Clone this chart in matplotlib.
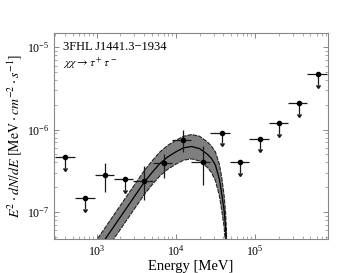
"""SED of 3FHL J1441.3-1934 with a tau+tau- dark matter fit band."""

import matplotlib

matplotlib.use("Agg")
import matplotlib.pyplot as plt
import numpy as np

plt.rcParams["font.family"] = "serif"
plt.rcParams["font.serif"] = ["Liberation Serif", "DejaVu Serif"]
plt.rcParams["mathtext.fontset"] = "stix"

# flux points (MeV, MeV cm^-2 s^-1)
energy = [400, 720, 1280, 2260, 3980, 7000, 12500, 21800, 38000, 65000, 115000, 204000, 355000, 620000]
energy_edges = [295, 530, 940, 1650, 2900, 5100, 8900, 15600, 27400, 48000, 85000, 149000, 262000, 460000, 810000]
flux = [4.6e-7, 1.48e-7, 2.8e-7, 2.5e-7, 2.4e-7, 3.9e-7, 7.5e-7, 4.0e-7, 9.2e-7, 4.07e-7, 7.8e-7, 1.2e-6, 2.1e-6, 4.7e-6]
flux_low = [None, None, 1.74e-7, None, 1.38e-7, 2.57e-7, 5.4e-7, 2.1e-7, None, None, None, None, None, None]
flux_high = [None, None, 3.9e-7, None, 3.6e-7, 5.1e-7, 1.0e-6, 6.4e-7, None, None, None, None, None, None]
upper_limit = [True, True, False, True, False, False, False, False, True, True, True, True, True, True]

# model curve and 1-sigma band, read as log10 values
model_log_e = [2.9, 3.0, 3.1, 3.2, 3.3, 3.4, 3.5, 3.6, 3.7, 3.8, 3.9, 4.0, 4.1, 4.2, 4.3, 4.4,
               4.45, 4.5, 4.55, 4.58, 4.61, 4.63, 4.64, 4.646]
model_log_f = [-7.63, -7.48, -7.34, -7.20, -7.06, -6.92, -6.78, -6.64, -6.52, -6.41, -6.33, -6.27,
               -6.22, -6.205, -6.23, -6.30, -6.35, -6.43, -6.60, -6.78, -6.98, -7.20, -7.45, -8.0]
band_log_hi = [-7.49, -7.34, -7.20, -7.06, -6.92, -6.78, -6.64, -6.50, -6.38, -6.27, -6.19, -6.13,
               -6.08, -6.06, -6.08, -6.15, -6.20, -6.27, -6.42, -6.58, -6.80, -7.02, -7.25, -8.0]
band_log_lo = [-7.78, -7.63, -7.49, -7.35, -7.21, -7.07, -6.93, -6.79, -6.67, -6.56, -6.48, -6.42,
               -6.37, -6.355, -6.38, -6.46, -6.52, -6.62, -6.80, -6.98, -7.18, -7.42, -7.70, -8.0]

fig = plt.figure(figsize=(3.63, 2.73), dpi=100)
ax = fig.add_axes([0.149, 0.1245, 0.755, 0.7555])
ax.set_xscale("log")
ax.set_yscale("log")

me = 10 ** np.array(model_log_e)
ax.fill_between(me, 10 ** np.array(band_log_lo), 10 ** np.array(band_log_hi),
                facecolor="#7f7f7f", edgecolor="none", zorder=1)
ax.plot(me, 10 ** np.array(band_log_hi), color="#222222", lw=0.8, ls=(0, (4, 1)), zorder=2)
ax.plot(me, 10 ** np.array(band_log_lo), color="#222222", lw=0.8, ls=(0, (4, 1)), zorder=2)
ax.plot(me, 10 ** np.array(model_log_f), color="black", lw=0.9, zorder=2)

e = np.array(energy, dtype=float)
f = np.array(flux)
edges = np.array(energy_edges, dtype=float)
ul = np.array(upper_limit)
xerr = np.vstack([e - edges[:-1], edges[1:] - e])

det = ~ul
f_lo = np.array([v if v is not None else np.nan for v in flux_low], dtype=float)
f_hi = np.array([v if v is not None else np.nan for v in flux_high], dtype=float)
ax.errorbar(e[det], f[det], xerr=xerr[:, det],
            yerr=np.vstack([f[det] - f_lo[det], f_hi[det] - f[det]]),
            fmt="o", color="black", ecolor="#1a1a1a", ms=3.0, elinewidth=0.9, capsize=0, zorder=3)

ax.errorbar(e[ul], f[ul], xerr=xerr[:, ul], fmt="o", color="black", ecolor="#1a1a1a",
            ms=3.0, elinewidth=0.9, capsize=0, zorder=3)
arrow_end = f[ul] * 0.74
ax.vlines(e[ul], arrow_end, f[ul], color="#1a1a1a", lw=0.9, zorder=3)
ax.plot(e[ul], arrow_end, ls="none", marker=11, ms=2.8, color="#1a1a1a", zorder=3)

ax.set_xlim(290, 8.4e5)
ax.set_ylim(4.7e-8, 1.5e-5)
ax.set_xlabel("Energy [MeV]", fontsize=10.5, labelpad=1)
ax.set_ylabel(r"$E^2\cdot dN/dE\ [\mathrm{MeV}\cdot cm^{-2}\cdot s^{-1}]$", fontsize=10, labelpad=2)

for side in ax.spines.values():
    side.set_color("#888888")
    side.set_linewidth(0.8)
ax.tick_params(which="both", direction="in", top=True, right=True, colors="#888888",
               labelcolor="black", labelsize=8.5, pad=3.5)
ax.tick_params(which="major", length=3.5, width=0.7)
ax.tick_params(which="minor", length=2, width=0.5)

ax.text(0.033, 0.932, "3FHL J1441.3\u22121934", transform=ax.transAxes, fontsize=9, va="center")
ax.text(0.033, 0.852, r"$\chi\chi \rightarrow \tau^+\tau^-$", transform=ax.transAxes,
        fontsize=8.5, va="center")

fig.savefig("out.png", dpi=100)
